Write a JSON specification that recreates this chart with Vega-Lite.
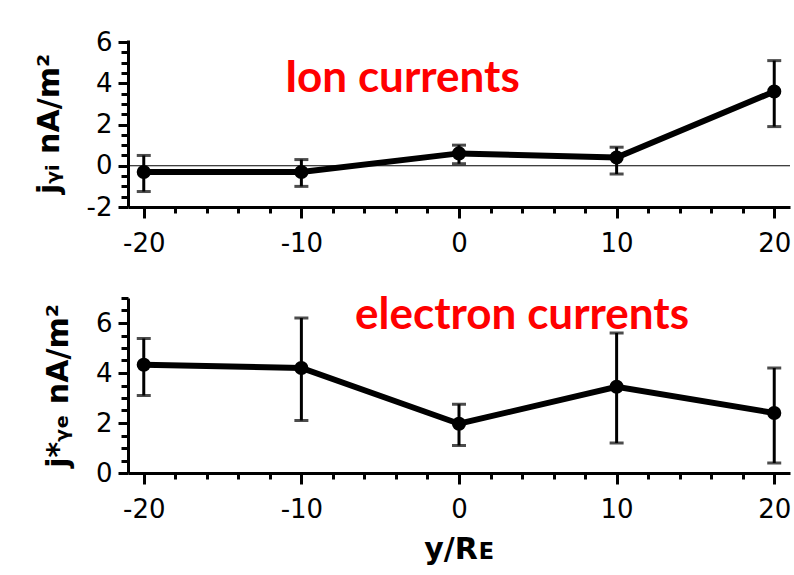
{
  "$schema": "https://vega.github.io/schema/vega-lite/v6.json",
  "background": "white",
  "padding": {"left": 34, "top": 29, "right": 2, "bottom": 2},
  "datasets": {
    "ion": [
      {"y_re": -20, "j": -0.3, "lo": -1.25, "hi": 0.5},
      {"y_re": -10, "j": -0.3, "lo": -1.0, "hi": 0.3},
      {"y_re": 0, "j": 0.6, "lo": 0.1, "hi": 1.0},
      {"y_re": 10, "j": 0.4, "lo": -0.4, "hi": 0.9},
      {"y_re": 20, "j": 3.6, "lo": 1.9, "hi": 5.1}
    ],
    "electron": [
      {"y_re": -20, "j": 4.33, "lo": 3.1, "hi": 5.38},
      {"y_re": -10, "j": 4.2, "lo": 2.1, "hi": 6.2},
      {"y_re": 0, "j": 1.97, "lo": 1.1, "hi": 2.75},
      {"y_re": 10, "j": 3.45, "lo": 1.2, "hi": 5.6},
      {"y_re": 20, "j": 2.4, "lo": 0.4, "hi": 4.2}
    ],
    "ionLabel": [{"lx": -3.6, "ly": 4.2, "txt": "Ion currents"}],
    "elLabel": [{"lx": 4.0, "ly": 6.28, "txt": "electron currents"}],
    "zero": [{"z": 0}]
  },
  "config": {
    "view": {"stroke": null},
    "axis": {
      "domainColor": "black",
      "domainWidth": 3,
      "tickColor": "black",
      "labelColor": "black",
      "labelFont": "DejaVu Sans",
      "labelFontSize": 26,
      "titleFont": "DejaVu Sans",
      "titleFontSize": 30,
      "titleFontWeight": "bold",
      "titleColor": "black",
      "grid": false,
      "labelOverlap": false,
      "labelFlush": false,
      "labelBound": false,
      "tickCount": 100
    },
    "concat": {"spacing": 29}
  },
  "vconcat": [
    {
      "width": 662,
      "height": 167,
      "layer": [
        {
          "data": {"name": "zero"},
          "mark": {"type": "rule", "color": "black", "strokeWidth": 1},
          "encoding": {"y": {"field": "z", "type": "quantitative"}}
        },
        {
          "data": {"name": "ion"},
          "mark": {"type": "line", "color": "black", "strokeWidth": 6},
          "encoding": {
            "x": {
              "field": "y_re", "type": "quantitative",
              "scale": {"domain": [-21, 21], "nice": false, "zero": false},
              "axis": {
                "title": null,
                "values": [-20, -18, -16, -14, -12, -10, -8, -6, -4, -2, 0, 2, 4, 6, 8, 10, 12, 14, 16, 18, 20],
                "tickCount": 100,
                "labelExpr": "datum.value % 10 === 0 ? '' + datum.value : ''",
                "tickSize": {"condition": {"test": "datum.value % 10 === 0", "value": 11}, "value": 6},
                "tickWidth": 3,
                "labelPadding": 12
              }
            },
            "y": {
              "field": "j", "type": "quantitative",
              "scale": {"domain": [-2, 6.1], "nice": false, "zero": false},
              "axis": {
                "title": "jᵧᵢ nA/m²",
                "values": [-2, -1.5, -1, -0.5, 0, 0.5, 1, 1.5, 2, 2.5, 3, 3.5, 4, 4.5, 5, 5.5, 6],
                "tickCount": 100,
                "labelExpr": "datum.value % 2 === 0 ? '' + datum.value : ''",
                "tickSize": {"condition": {"test": "datum.value % 2 === 0", "value": 10}, "value": 7},
                "tickWidth": 3,
                "labelPadding": 6,
                "titlePadding": 22
              }
            }
          }
        },
        {
          "data": {"name": "ion"},
          "mark": {"type": "rule", "color": "black", "strokeWidth": 3},
          "encoding": {
            "x": {"field": "y_re", "type": "quantitative"},
            "y": {"field": "lo", "type": "quantitative"},
            "y2": {"field": "hi"}
          }
        },
        {
          "data": {"name": "ion"},
          "mark": {"type": "tick", "orient": "horizontal", "color": "black", "size": 14, "thickness": 3},
          "encoding": {
            "x": {"field": "y_re", "type": "quantitative"},
            "y": {"field": "lo", "type": "quantitative"}
          }
        },
        {
          "data": {"name": "ion"},
          "mark": {"type": "tick", "orient": "horizontal", "color": "black", "size": 14, "thickness": 3},
          "encoding": {
            "x": {"field": "y_re", "type": "quantitative"},
            "y": {"field": "hi", "type": "quantitative"}
          }
        },
        {
          "data": {"name": "ion"},
          "mark": {"type": "point", "filled": true, "color": "black", "size": 200, "opacity": 1},
          "encoding": {
            "x": {"field": "y_re", "type": "quantitative"},
            "y": {"field": "j", "type": "quantitative"}
          }
        },
        {
          "data": {"name": "ionLabel"},
          "mark": {"type": "text", "color": "#ff0000", "font": "Lato", "fontWeight": "bold", "fontSize": 44, "align": "center", "baseline": "middle"},
          "encoding": {
            "x": {"field": "lx", "type": "quantitative"},
            "y": {"field": "ly", "type": "quantitative"},
            "text": {"field": "txt"}
          }
        }
      ]
    },
    {
      "width": 662,
      "height": 175,
      "layer": [
        {
          "data": {"name": "electron"},
          "mark": {"type": "line", "color": "black", "strokeWidth": 6},
          "encoding": {
            "x": {
              "field": "y_re", "type": "quantitative",
              "scale": {"domain": [-21, 21], "nice": false, "zero": false},
              "axis": {
                "title": "y/Rᴇ",
                "values": [-20, -18, -16, -14, -12, -10, -8, -6, -4, -2, 0, 2, 4, 6, 8, 10, 12, 14, 16, 18, 20],
                "tickCount": 100,
                "labelExpr": "datum.value % 10 === 0 ? '' + datum.value : ''",
                "tickSize": {"condition": {"test": "datum.value % 10 === 0", "value": 11}, "value": 6},
                "tickWidth": 3,
                "labelPadding": 12,
                "titlePadding": 12
              }
            },
            "y": {
              "field": "j", "type": "quantitative",
              "scale": {"domain": [0, 7], "nice": false, "zero": false},
              "axis": {
                "title": "j*ᵧₑ nA/m²",
                "values": [0, 0.5, 1, 1.5, 2, 2.5, 3, 3.5, 4, 4.5, 5, 5.5, 6, 6.5, 7],
                "tickCount": 100,
                "labelExpr": "datum.value % 2 === 0 ? '' + datum.value : ''",
                "tickSize": {"condition": {"test": "datum.value % 2 === 0", "value": 10}, "value": 7},
                "tickWidth": 3,
                "labelPadding": 6,
                "titlePadding": 22
              }
            }
          }
        },
        {
          "data": {"name": "electron"},
          "mark": {"type": "rule", "color": "black", "strokeWidth": 3},
          "encoding": {
            "x": {"field": "y_re", "type": "quantitative"},
            "y": {"field": "lo", "type": "quantitative"},
            "y2": {"field": "hi"}
          }
        },
        {
          "data": {"name": "electron"},
          "mark": {"type": "tick", "orient": "horizontal", "color": "black", "size": 14, "thickness": 3},
          "encoding": {
            "x": {"field": "y_re", "type": "quantitative"},
            "y": {"field": "lo", "type": "quantitative"}
          }
        },
        {
          "data": {"name": "electron"},
          "mark": {"type": "tick", "orient": "horizontal", "color": "black", "size": 14, "thickness": 3},
          "encoding": {
            "x": {"field": "y_re", "type": "quantitative"},
            "y": {"field": "hi", "type": "quantitative"}
          }
        },
        {
          "data": {"name": "electron"},
          "mark": {"type": "point", "filled": true, "color": "black", "size": 200, "opacity": 1},
          "encoding": {
            "x": {"field": "y_re", "type": "quantitative"},
            "y": {"field": "j", "type": "quantitative"}
          }
        },
        {
          "data": {"name": "elLabel"},
          "mark": {"type": "text", "color": "#ff0000", "font": "Lato", "fontWeight": "bold", "fontSize": 44, "align": "center", "baseline": "middle"},
          "encoding": {
            "x": {"field": "lx", "type": "quantitative"},
            "y": {"field": "ly", "type": "quantitative"},
            "text": {"field": "txt"}
          }
        }
      ]
    }
  ]
}
